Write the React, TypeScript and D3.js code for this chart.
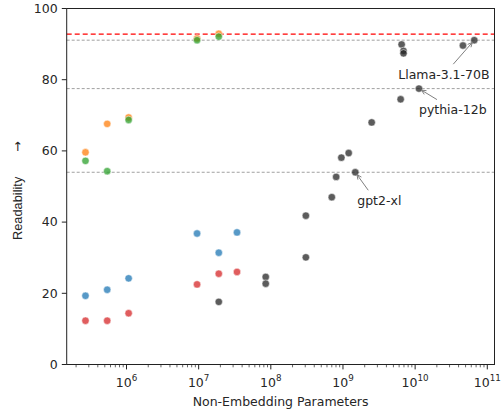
import React from "react";
import * as d3 from "d3";

// Small models evaluated in four configurations (colored series)
const SMALL_PARAMS = [2.7e5, 5.4e5, 1.07e6, 9.5e6, 1.9e7, 3.4e7];
const BLUE_SCORES = [19.3, 21.0, 24.2, 36.8, 31.4, 37.1];
const ORANGE_SCORES = [59.6, 67.6, 69.4, 91.6, 92.9];
const GREEN_SCORES = [57.2, 54.3, 68.7, 91.1, 92.1];
const RED_SCORES = [12.3, 12.3, 14.4, 22.5, 25.5, 26.0];

// Pretrained models (dark series)
const MODEL_PARAMS = [
  1.9e7, 8.5e7, 8.5e7, 3.06e8, 3.06e8, 7.0e8, 8.05e8, 9.5e8, 1.2e9, 1.48e9,
  2.5e9, 6.3e9, 6.5e9, 6.9e9, 6.9e9, 1.13e10, 4.6e10, 6.6e10,
];
const MODEL_SCORES = [
  17.6, 24.6, 22.7, 41.8, 30.1, 47.0, 52.7, 58.1, 59.4, 54.0,
  68.0, 74.5, 89.9, 88.1, 87.4, 77.5, 89.6, 91.1,
];
const MODEL_LABELS = [
  "", "", "", "", "", "", "", "", "", "gpt2-xl",
  "", "", "", "", "", "pythia-12b", "", "Llama-3.1-70B",
];

const REFERENCE_SCORE = 92.8;
const Y_TICKS = [0, 20, 40, 60, 80, 100];
const X_EXPONENTS = [6, 7, 8, 9, 10, 11];

const COLORS = {
  blue: "#1f77b4",
  orange: "#ff7f0e",
  green: "#2ca02c",
  red: "#d62728",
  dark: "#262626",
};

// Label placement: text offset and arrow tail offset, relative to the point (px)
const LABEL_LAYOUT: Record<string, { tx: number; ty: number; ax: number; ay: number }> = {
  "gpt2-xl": { tx: 2, ty: 33, ax: 13, ay: 18 },
  "pythia-12b": { tx: 0, ty: 25, ax: 18, ay: 11 },
  "Llama-3.1-70B": { tx: -76, ty: 39, ax: -21, ay: 24 },
};

const FONT = "DejaVu Sans, sans-serif";
const FS = 12.5;

export default function App() {
  const W = 502;
  const H = 413;
  const left = 66.7;
  const right = 494.5;
  const top = 8.5;
  const bottom = 364.5;

  const x = d3.scaleLog().domain([Math.pow(10, 5.171), Math.pow(10, 11.1)]).range([left, right]);
  const y = d3.scaleLinear().domain([0, 100]).range([bottom, top]);

  const [dMin, dMax] = x.domain();
  const minorTicks: number[] = [];
  for (let e = 5; e <= 11; e++) {
    for (let k = 2; k <= 9; k++) {
      const v = k * Math.pow(10, e);
      if (v >= dMin && v <= dMax) minorTicks.push(v);
    }
  }

  const series = [
    { color: COLORS.blue, xs: SMALL_PARAMS, ys: BLUE_SCORES },
    { color: COLORS.orange, xs: SMALL_PARAMS, ys: ORANGE_SCORES },
    { color: COLORS.green, xs: SMALL_PARAMS, ys: GREEN_SCORES },
    { color: COLORS.red, xs: SMALL_PARAMS, ys: RED_SCORES },
    { color: COLORS.dark, xs: MODEL_PARAMS, ys: MODEL_SCORES },
  ];

  const labeled = MODEL_LABELS.map((name, i) => ({ name, i })).filter((d) => d.name);

  return (
    <div style={{ position: "fixed", left: 0, top: 0 }}>
      <svg width={W} height={H} style={{ display: "block", background: "#fff" }}>
        {/* guide lines at annotated model scores */}
        {labeled.map(({ name, i }) => (
          <line
            key={"g" + name}
            x1={left}
            x2={right}
            y1={y(MODEL_SCORES[i])}
            y2={y(MODEL_SCORES[i])}
            stroke="#888"
            strokeWidth={0.8}
            strokeDasharray="3,2"
          />
        ))}
        <line
          x1={left}
          x2={right}
          y1={y(REFERENCE_SCORE)}
          y2={y(REFERENCE_SCORE)}
          stroke="#ff0000"
          strokeWidth={1.4}
          strokeDasharray="5,3"
        />

        {/* points */}
        {series.map((s, si) => (
          <g key={si}>
            {s.ys.map((v, j) => (
              <circle
                key={j}
                cx={x(s.xs[j])}
                cy={y(v)}
                r={3.7}
                fill={s.color}
                fillOpacity={0.75}
                stroke="#fff"
                strokeWidth={0.5}
              />
            ))}
          </g>
        ))}

        {/* annotations */}
        {labeled.map(({ name, i }) => {
          const px = x(MODEL_PARAMS[i]);
          const py = y(MODEL_SCORES[i]);
          const L = LABEL_LAYOUT[name];
          const sx = px + L.ax;
          const sy = py + L.ay;
          const dx = px - sx;
          const dy = py - sy;
          const len = Math.hypot(dx, dy);
          const ux = dx / len;
          const uy = dy / len;
          const ex = px - ux * 3;
          const ey = py - uy * 3;
          const hl = 5;
          const ang = 0.45;
          const rot = (a: number) => [
            -(ux * Math.cos(a) - uy * Math.sin(a)) * hl,
            -(ux * Math.sin(a) + uy * Math.cos(a)) * hl,
          ];
          const [h1x, h1y] = rot(ang);
          const [h2x, h2y] = rot(-ang);
          return (
            <g key={"a" + name}>
              <path
                d={`M${sx},${sy}L${ex},${ey}M${ex + h1x},${ey + h1y}L${ex},${ey}L${ex + h2x},${ey + h2y}`}
                fill="none"
                stroke="#808080"
                strokeWidth={1}
              />
              <text x={px + L.tx} y={py + L.ty} fontFamily={FONT} fontSize={FS} fill="#262626">
                {name}
              </text>
            </g>
          );
        })}

        {/* frame */}
        <rect x={left} y={top} width={right - left} height={bottom - top} fill="none" stroke="#222" strokeWidth={1} />

        {/* y axis */}
        {Y_TICKS.map((t) => (
          <g key={"y" + t}>
            <line x1={left - 4.9} x2={left} y1={y(t)} y2={y(t)} stroke="#222" strokeWidth={1} />
            <text x={left - 9} y={y(t)} dy="0.35em" textAnchor="end" fontFamily={FONT} fontSize={FS} fill="#262626">
              {t}
            </text>
          </g>
        ))}

        {/* x axis */}
        {minorTicks.map((t, k) => (
          <line key={"m" + k} x1={x(t)} x2={x(t)} y1={bottom} y2={bottom + 2.8} stroke="#222" strokeWidth={0.7} />
        ))}
        {X_EXPONENTS.map((e) => {
          const xp = x(Math.pow(10, e));
          return (
            <g key={"x" + e}>
              <line x1={xp} x2={xp} y1={bottom} y2={bottom + 4.9} stroke="#222" strokeWidth={1} />
              <text x={xp} y={bottom + 22} textAnchor="middle" fontFamily={FONT} fontSize={FS} fill="#262626">
                10
                <tspan dy={-5.5} fontSize={FS * 0.7}>
                  {e}
                </tspan>
              </text>
            </g>
          );
        })}

        {/* axis titles */}
        <text
          x={(left + right) / 2}
          y={bottom + 41}
          textAnchor="middle"
          fontFamily={FONT}
          fontSize={FS}
          fill="#262626"
        >
          Non-Embedding Parameters
        </text>
        <text
          transform={`translate(22,240) rotate(-90)`}
          fontFamily="Liberation Sans, Arial, sans-serif"
          fontSize={12.8}
          fill="#262626"
        >
          Readability
          <tspan dx={25} fontFamily={FONT}>
            →
          </tspan>
        </text>
      </svg>
    </div>
  );
}
